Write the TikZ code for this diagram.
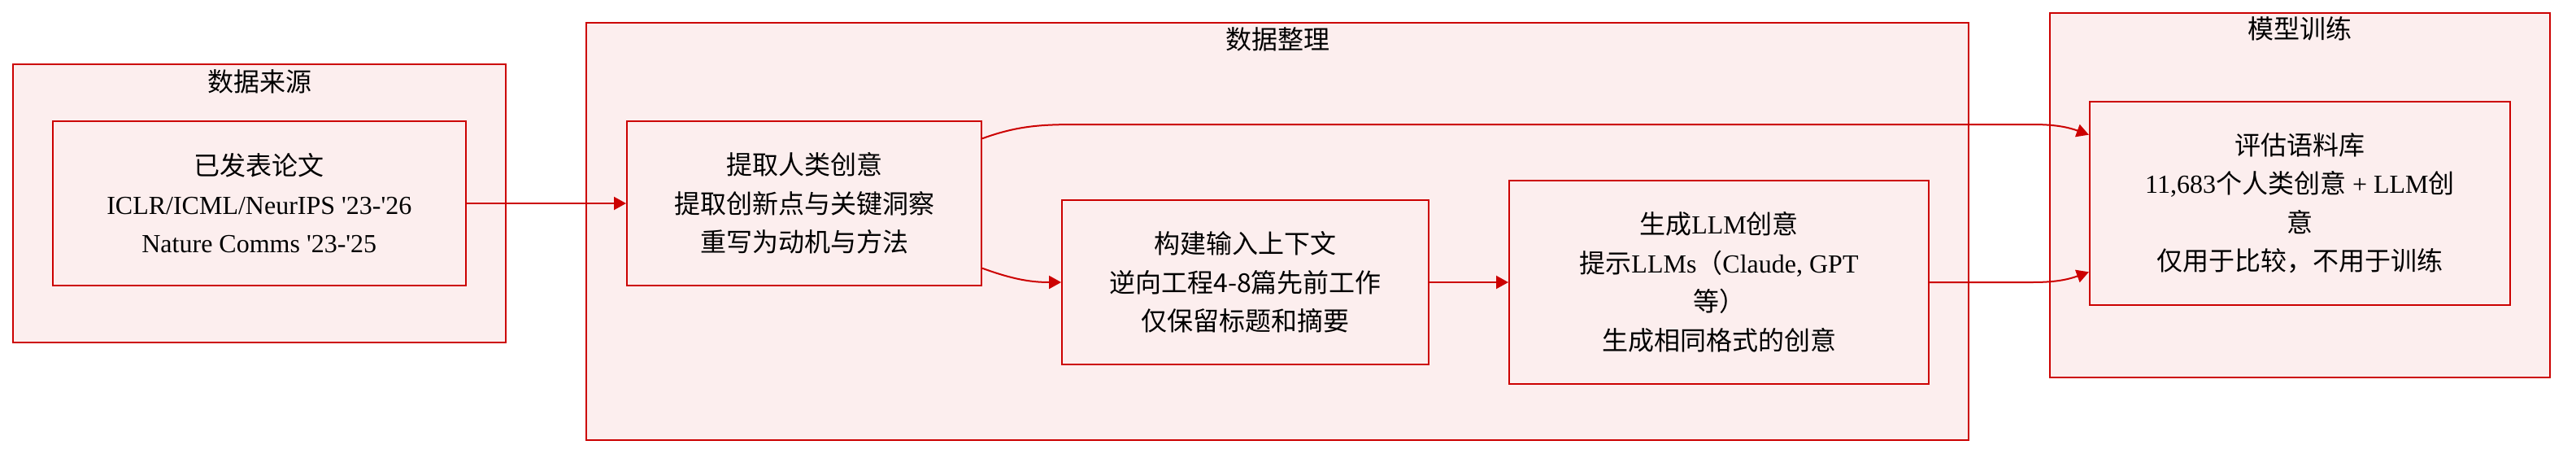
\documentclass[tikz,border=0pt]{standalone}
\usepackage{fontspec}
\newfontfamily\latin{Liberation Serif}
\newfontfamily\cjk{Noto Sans CJK SC}
\newcommand{\zh}[1]{{\cjk #1}}
\usetikzlibrary{arrows.meta}
\definecolor{boxred}{RGB}{204,0,0}
\definecolor{boxfill}{RGB}{252,238,238}

\begin{document}
\begin{tikzpicture}
[x=1pt,y=1pt,
 cluster/.style={rectangle,draw=boxred,fill=boxfill,line width=1pt,inner sep=0pt},
 procbox/.style={rectangle,draw=boxred,fill=boxfill,line width=1pt,inner sep=0pt,
   align=center,font=\fontsize{16pt}{23.75pt}\selectfont\latin},
 grptitle/.style={inner sep=0pt,font=\fontsize{16pt}{19pt}\selectfont\cjk},
 flow/.style={draw=boxred,line width=1pt,-{Triangle[length=7.5pt,width=8pt]}}]
\useasboundingbox (0,0) rectangle (1584,-281);

\node[cluster,minimum width=303pt,minimum height=171pt] (src) at (159.5,-125) {};
\node[cluster,minimum width=850pt,minimum height=256.7pt] (prep) at (785.5,-142.2) {};
\node[cluster,minimum width=307.5pt,minimum height=224pt] (train) at (1414.2,-120) {};

\node[grptitle] (srctitle) at (159.5,-50) {数据来源};
\node[grptitle] (preptitle) at (785.5,-24) {数据整理};
\node[grptitle] (traintitle) at (1414.2,-17.5) {模型训练};

\node[procbox,minimum width=253.7pt,minimum height=101pt] (paper) at (159.4,-125)
{\zh{已发表论文}\\ICLR/ICML/NeurIPS '23-'26\\Nature Comms '23-'25};
\node[procbox,minimum width=218pt,minimum height=101pt] (extract) at (494.5,-125)
{\zh{提取人类创意}\\\zh{提取创新点与关键洞察}\\\zh{重写为动机与方法}};
\node[procbox,minimum width=225.5pt,minimum height=101pt] (context) at (765.8,-173.5)
{\zh{构建输入上下文}\\\zh{逆向工程4-8篇先前工作}\\\zh{仅保留标题和摘要}};
\node[procbox,minimum width=258pt,minimum height=125pt] (generate) at (1057,-173.5)
{\zh{生成}LLM\zh{创意}\\\zh{提示}LLMs\zh{（}Claude, GPT\\\zh{等）}\\\zh{生成相同格式的创意}};
\node[procbox,minimum width=258.5pt,minimum height=125pt] (corpus) at (1414.2,-125)
{\zh{评估语料库}\\11,683\zh{个人类创意} + LLM\zh{创}\\\zh{意}\\\zh{仅用于比较，不用于训练}};

\coordinate (toprise) at (670,-76.5);
\coordinate (topdrop) at (1250,-76.5);
\coordinate (lowrise) at (1250,-173.5);

\draw[flow] (paper) -- (extract);
\draw[flow] (extract.-20) to[out=-20,in=180] (context.west);
\draw[flow] (context) -- (generate);
\draw[flow] (extract.20) to[out=20,in=180] (toprise) -- (topdrop)
  to[out=0,in=160] (corpus.162);
\draw[flow] (generate) -- (lowrise) to[out=0,in=-160] (corpus.-162);
\end{tikzpicture}
\end{document}
